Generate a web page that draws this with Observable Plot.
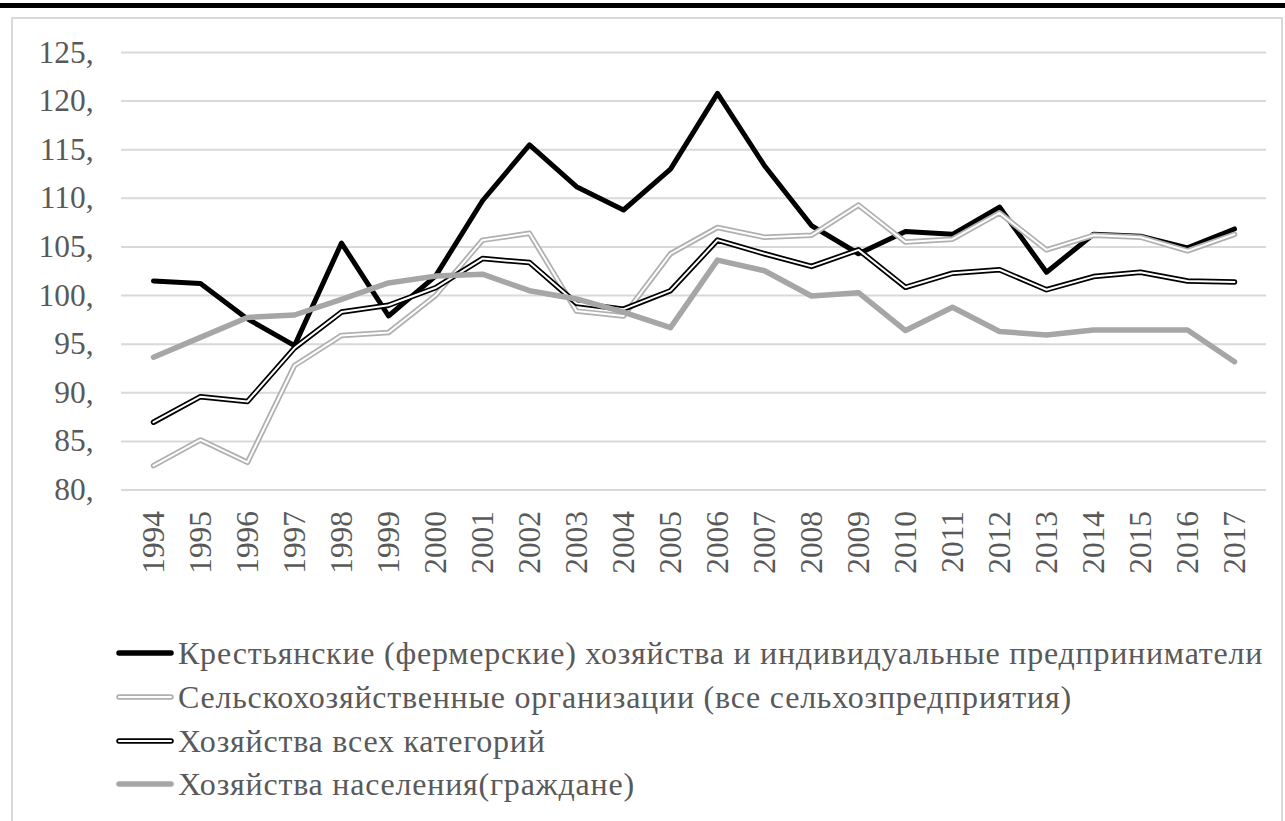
<!DOCTYPE html>
<html><head><meta charset="utf-8">
<script src="https://cdn.jsdelivr.net/npm/d3@7"></script>
<script src="https://cdn.jsdelivr.net/npm/@observablehq/plot@0.6"></script>
<style>
html,body{margin:0;padding:0;background:#fff;width:1285px;height:821px;overflow:hidden;}
#topbar{position:absolute;left:0;top:3px;width:1285px;height:5px;background:#000;}
#frame{position:absolute;left:11px;top:17px;width:1272px;height:830px;border:2px solid #d9d9d9;box-sizing:border-box;}
#chart{position:absolute;left:0;top:0;}
#legend{position:absolute;left:0;top:0;color:#595959;}
.row{position:absolute;left:115px;height:40px;white-space:nowrap;display:flex;align-items:center;}
.row svg{flex:none;}
.row span{margin-left:3px;}
</style>
</head><body>
<div id="topbar"></div>
<div id="frame"></div>
<div id="chart"></div>
<div id="legend"></div>
<script>
const years = [1994,1995,1996,1997,1998,1999,2000,2001,2002,2003,2004,2005,2006,2007,2008,2009,2010,2011,2012,2013,2014,2015,2016,2017];
const yTicks = [80,85,90,95,100,105,110,115,120,125];
const seriesNames = [
  "Крестьянские (фермерские) хозяйства и индивидуальные предприниматели",
  "Сельскохозяйственные организации (все сельхозпредприятия)",
  "Хозяйства всех категорий",
  "Хозяйства населения(граждане)"
];
const farms = [101.5,101.25,97.6,94.85,105.4,97.9,102.0,109.75,115.5,111.2,108.8,113.0,120.8,113.35,107.2,104.3,106.6,106.3,109.1,102.4,106.3,106.1,104.9,106.85];
const orgs = [82.5,85.15,82.85,92.8,95.9,96.2,100.0,105.7,106.4,98.4,97.9,104.3,107.0,106.0,106.2,109.3,105.5,105.8,108.5,104.7,106.2,106.0,104.6,106.3];
const allCats = [86.97,89.6,89.1,94.6,98.3,99.0,100.8,103.8,103.4,99.2,98.6,100.5,105.7,104.3,103.0,104.7,100.85,102.3,102.65,100.6,101.95,102.4,101.5,101.4];
const households = [93.65,95.7,97.75,98.0,99.6,101.3,102.0,102.2,100.5,99.65,98.3,96.7,103.65,102.55,99.95,100.3,96.4,98.8,96.3,95.95,96.45,96.45,96.45,93.2];

// pick a Times-like serif face if one is installed
const ctx = document.createElement("canvas").getContext("2d");
function hasFont(name) {
  const s = "Крестьянские 0123456789 abcdefghij";
  for (const base of ["monospace", "sans-serif"]) {
    ctx.font = `40px ${base}`; const w0 = ctx.measureText(s).width;
    ctx.font = `40px "${name}", ${base}`; const w1 = ctx.measureText(s).width;
    if (Math.abs(w0 - w1) > 0.5) return true;
  }
  return false;
}
const candidates = ["Liberation Serif", "Tinos", "Times New Roman", "Nimbus Roman", "FreeSerif", "Noto Serif", "DejaVu Serif"];
const found = candidates.find(hasFont);
const family = found ? `"${found}", serif` : `"Liberation Sans", Arial, sans-serif`;
function measure(text, size) { ctx.font = `${size}px ${family}`; return ctx.measureText(text).width; }
// axis font sized so that "125," is about 55px wide
let axisSize = Math.max(26, Math.min(34, 32 * 55 / measure("125,", 32)));
// legend: 30px, spaced so the first entry spans about 1085px
const legendSize = found ? 32 : 30;
const lw = measure(seriesNames[0], legendSize);
const legendSpacing = (1085 - lw) / seriesNames[0].length;

const rows = (vals) => vals.map((v, i) => ({year: String(years[i]), value: v}));
const lineOpts = (stroke, w) => ({x: "year", y: "value", stroke, strokeWidth: w, strokeLinejoin: "round", strokeLinecap: "round"});

const plot = Plot.plot({
  width: 1285,
  height: 620,
  marginLeft: 121,
  marginRight: 19,
  marginTop: 52,
  marginBottom: 130.5,
  style: {fontFamily: family, fontSize: axisSize + "px", color: "#595959", background: "transparent", overflow: "visible"},
  x: {type: "point", domain: years.map(String), padding: 0.5, tickSize: 0, tickPadding: 21, tickRotate: -90, label: null},
  y: {domain: [80, 125], ticks: yTicks, tickFormat: d => d + ",", tickSize: 0, tickPadding: 28, label: null},
  marks: [
    Plot.ruleY(yTicks, {stroke: "#d9d9d9", strokeWidth: 2}),
    Plot.line(rows(farms), lineOpts("#000000", 5)),
    Plot.line(rows(orgs), lineOpts("#b0b0b0", 5.5)),
    Plot.line(rows(orgs), lineOpts("#ffffff", 2)),
    Plot.line(rows(allCats), lineOpts("#000000", 5.5)),
    Plot.line(rows(allCats), lineOpts("#ffffff", 2)),
    Plot.line(rows(households), lineOpts("#a6a6a6", 5.5))
  ]
});
document.getElementById("chart").appendChild(plot);

const legendStyles = [
  {outer: "#000000", inner: null},
  {outer: "#b0b0b0", inner: "#ffffff"},
  {outer: "#000000", inner: "#ffffff"},
  {outer: "#a6a6a6", inner: null}
];
const legendCenters = [653, 697, 741, 784];
const legend = document.getElementById("legend");
legend.style.fontFamily = family;
legend.style.fontSize = legendSize + "px";
legend.style.letterSpacing = legendSpacing.toFixed(2) + "px";
seriesNames.forEach((name, i) => {
  const row = document.createElement("div");
  row.className = "row";
  row.style.top = (legendCenters[i] - 20) + "px";
  const s = legendStyles[i];
  row.innerHTML = `<svg width="60" height="14"><line x1="4" y1="7" x2="56" y2="7" stroke="${s.outer}" stroke-width="5.5" stroke-linecap="round"/>` +
    (s.inner ? `<line x1="4" y1="7" x2="56" y2="7" stroke="${s.inner}" stroke-width="2" stroke-linecap="round"/>` : ``) +
    `</svg><span></span>`;
  row.querySelector("span").textContent = name;
  legend.appendChild(row);
});
</script>
</body></html>
